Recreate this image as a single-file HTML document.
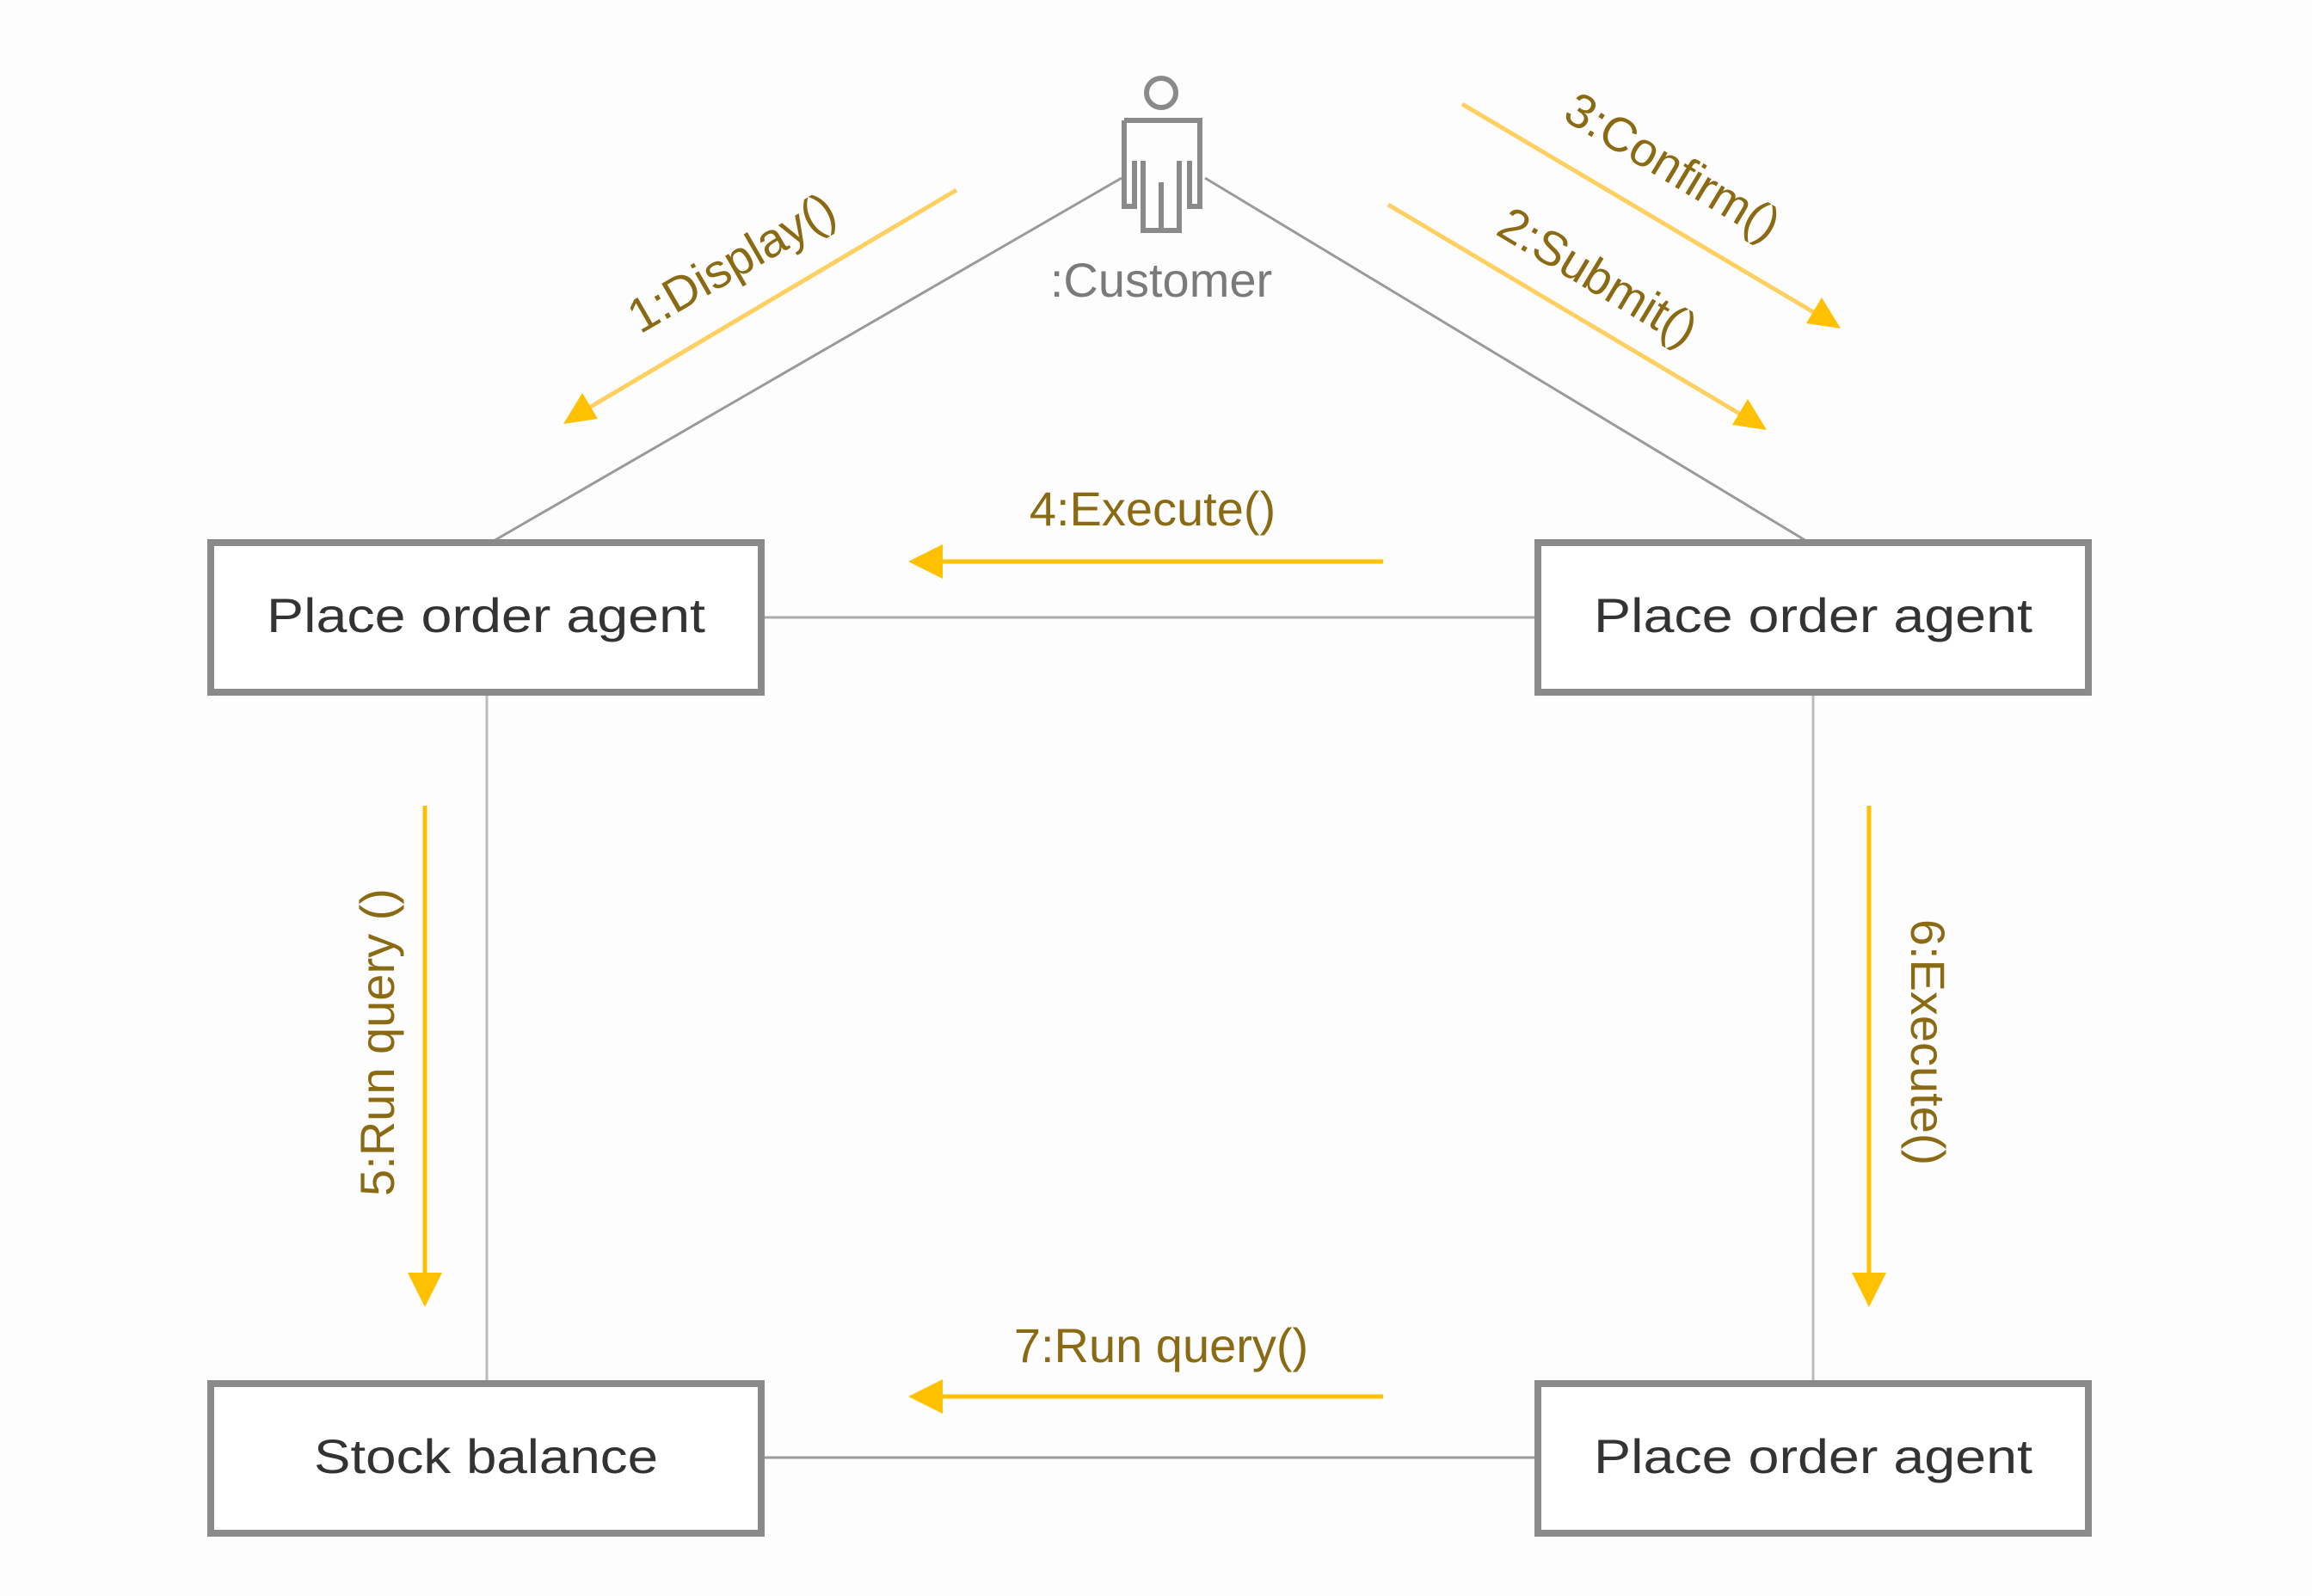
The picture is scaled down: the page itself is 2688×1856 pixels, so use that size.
<!DOCTYPE html>
<html><head><meta charset="utf-8"><style>html,body{margin:0;padding:0;background:#fdfdfd}svg{display:block}</style></head>
<body>
<svg width="2688" height="1856" viewBox="0 0 2688 1856" xmlns="http://www.w3.org/2000/svg" font-family="Liberation Sans, sans-serif">
<rect width="2688" height="1856" fill="#fdfdfd"/>
<g stroke="#9a9a9a" stroke-width="3" fill="none">
<line x1="1304" y1="207" x2="574" y2="629"/>
<line x1="1401" y1="207" x2="2100" y2="629"/>
<line x1="886" y1="718" x2="1786" y2="718" stroke="#aaa"/>
<line x1="886" y1="1695" x2="1786" y2="1695"/>
<line x1="566" y1="808" x2="566" y2="1611" stroke="#bbb"/>
<line x1="2108" y1="808" x2="2108" y2="1611" stroke="#bbb"/>
</g>
<g stroke="#8a8a8a" stroke-width="6" fill="none">
<circle cx="1350" cy="108" r="17"/>
<path d="M1307,140 H1395 V240 H1383 V187 M1307,140 V240 H1319 V187 M1329,187 V268 H1371 V187 M1350,212 V268"/>
</g>
<text x="1350" y="345" font-size="56" fill="#7a7a7a" text-anchor="middle">:Customer</text>
<g fill="#fff" stroke="#8a8a8a" stroke-width="8">
<rect x="245" y="631" width="640" height="174"/>
<rect x="1788" y="631" width="640" height="174"/>
<rect x="245" y="1609" width="640" height="174"/>
<rect x="1788" y="1609" width="640" height="174"/>
</g>
<g font-size="56" fill="#333" text-anchor="middle">
<text x="565" y="735" textLength="510" lengthAdjust="spacingAndGlyphs">Place order agent</text>
<text x="2108" y="735" textLength="510" lengthAdjust="spacingAndGlyphs">Place order agent</text>
<text x="565" y="1713" textLength="400" lengthAdjust="spacingAndGlyphs">Stock balance</text>
<text x="2108" y="1713" textLength="510" lengthAdjust="spacingAndGlyphs">Place order agent</text>
</g>
<g stroke-width="5" fill="none">
<line x1="1112" y1="221" x2="680" y2="477" stroke="#FFD060"/>
<line x1="1700" y1="121" x2="2110" y2="364" stroke="#FFD060"/>
<line x1="1614" y1="238" x2="2024" y2="482" stroke="#FFD060"/>
<line x1="1608" y1="653" x2="1090" y2="653" stroke="#FFC000"/>
<line x1="1608" y1="1624" x2="1090" y2="1624" stroke="#FFC000"/>
<line x1="494" y1="937" x2="494" y2="1490" stroke="#FFC000"/>
<line x1="2173" y1="937" x2="2173" y2="1490" stroke="#FFC000"/>
</g>
<g fill="#FFC000">
<path d="M655,493 l40,-6 l-18,-30 z"/>
<path d="M2140,382 l-22,-36 l-18,30 z"/>
<path d="M2054,500 l-22,-36 l-18,30 z"/>
<path d="M1056,653 l40,-20 v40 z"/>
<path d="M1056,1624 l40,-20 v40 z"/>
<path d="M494,1520 l-20,-40 h40 z"/>
<path d="M2173,1520 l-20,-40 h40 z"/>
</g>
<g font-size="56" fill="#8B6A14" text-anchor="middle">
<text x="0" y="0" transform="translate(860,322) rotate(-30)">1:Display()</text>
<text x="0" y="0" transform="translate(1935,210) rotate(31)">3:Confirm()</text>
<text x="0" y="0" transform="translate(1848,338) rotate(31)">2:Submit()</text>
<text x="1340" y="611">4:Execute()</text>
<text x="1350" y="1584">7:Run query()</text>
<text x="0" y="0" transform="translate(458,1212) rotate(-90)">5:Run query ()</text>
<text x="0" y="0" transform="translate(2222,1212) rotate(90)">6:Execute()</text>
</g>
</svg>
</body></html>
